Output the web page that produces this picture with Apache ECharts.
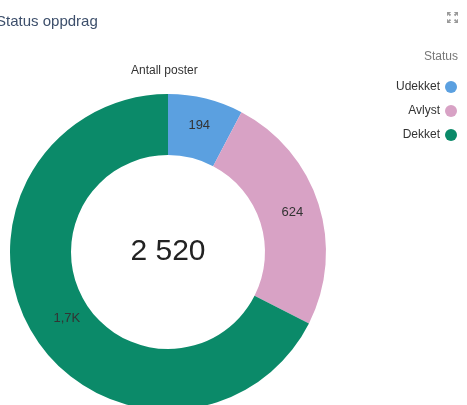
<!DOCTYPE html>
<html lang="no">
<head>
    <meta charset="UTF-8">
    <title>Status oppdrag</title>
    <script src="https://cdn.jsdelivr.net/npm/echarts@6/dist/echarts.min.js"></script>
    <style>
        html, body { margin: 0; padding: 0; background: #fff; }
        #main { width: 467px; height: 405px; }
    </style>
</head>
<body>
<div id="main"></div>
<script>
    // data
    var categories = ['Udekket', 'Avlyst', 'Dekket'];
    var values = [194, 624, 1702];
    var colors = ['#5ba0e0', '#d8a2c5', '#0b8a69'];
    var total = 2520;

    var myChart = echarts.init(document.getElementById('main'));

    function shortNum(v) {
        if (v >= 1000) return (v / 1000).toFixed(1).replace('.', ',') + 'K';
        return String(v);
    }

    myChart.setOption({
        color: colors,
        animation: false,
        title: {
            text: 'Status oppdrag',
            left: -9,
            top: 9,
            textStyle: { fontSize: 15, fontWeight: 'normal', color: '#3d4f6b', fontFamily: 'Liberation Sans, Arial' }
        },
        toolbox: {
            right: -6,
            top: -3,
            itemSize: 11,
            feature: {
                myFull: {
                    show: true,
                    title: 'Fullskjerm',
                    icon: 'path://M0,0 L4,0 L4,1 L2.4,1 L4.5,3.1 L3.1,4.5 L1,2.4 L1,4 L0,4 Z M12,0 L8,0 L8,1 L9.6,1 L7.5,3.1 L8.9,4.5 L11,2.4 L11,4 L12,4 Z M0,12 L4,12 L4,11 L2.4,11 L4.5,8.9 L3.1,7.5 L1,9.6 L1,8 L0,8 Z M12,12 L8,12 L8,11 L9.6,11 L7.5,8.9 L8.9,7.5 L11,9.6 L11,8 L12,8 Z',
                    iconStyle: { color: '#999', borderWidth: 0 },
                    onclick: function () {}
                }
            }
        },
        legend: {
            orient: 'vertical',
            right: 5,
            top: 76,
            align: 'right',
            icon: 'circle',
            itemWidth: 12,
            itemHeight: 12,
            itemGap: 12,
            data: categories,
            textStyle: { fontSize: 12, color: '#333', fontFamily: 'Liberation Sans, Arial' }
        },
        graphic: [
            {
                type: 'text',
                right: 9,
                top: 51,
                style: { text: 'Status', fontSize: 12, fill: '#777', fontFamily: 'Liberation Sans, Arial' }
            },
            {
                type: 'text',
                left: 131,
                top: 65,
                style: { text: 'Antall poster', fontSize: 12, fill: '#333', fontFamily: 'Liberation Sans, Arial' }
            },
            {
                type: 'text',
                x: 168,
                y: 252,
                style: {
                    text: total.toLocaleString('en').replace(',', ' '),
                    fontSize: 30,
                    fill: '#222',
                    align: 'center',
                    verticalAlign: 'middle',
                    fontFamily: 'Liberation Sans, Arial'
                }
            }
        ],
        series: [
            {
                name: 'Antall poster',
                type: 'pie',
                center: [168, 252],
                radius: [97, 158],
                startAngle: 90,
                clockwise: true,
                label: {
                    show: true,
                    position: 'inside',
                    color: '#333',
                    fontSize: 13,
                    fontFamily: 'Liberation Sans, Arial',
                    formatter: function (p) { return shortNum(p.value); }
                },
                labelLine: { show: false },
                itemStyle: { borderWidth: 0 },
                data: categories.map(function (c, i) {
                    var d = { name: c, value: values[i] };
                    if (i === 2) d.label = { offset: [10, -2] };
                    return d;
                })
            }
        ]
    });
</script>
</body>
</html>
